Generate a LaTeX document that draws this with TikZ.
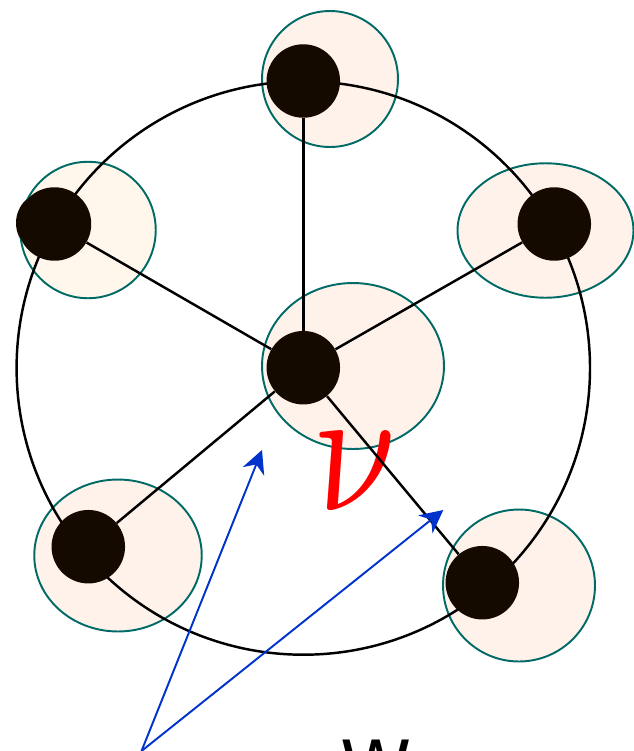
\documentclass[tikz,border=0pt]{standalone}
\usepackage{fontspec}
\usepackage{tikz}
\usetikzlibrary{arrows.meta,shapes.geometric}
\newfontfamily\labfont{DejaVu Sans}
\definecolor{vtxfill}{HTML}{150A00}
\definecolor{halofill}{HTML}{FFF2EA}
\definecolor{halofillb}{HTML}{FFF6EC}
\definecolor{haloline}{HTML}{006B66}
\definecolor{ptrblue}{HTML}{0033CC}

\begin{document}
\begin{tikzpicture}[
  x=0.02cm,y=-0.02cm,
  vtx/.style={circle,fill=vtxfill,draw=none,minimum size=1.47cm,inner sep=0pt},
  halo/.style={ellipse,draw=haloline,line width=1.1pt,fill=halofill,inner sep=0pt},
  edge/.style={line width=1.4pt,draw=black},
  ptr/.style={line width=1.1pt,draw=ptrblue,-{Stealth[length=0.46cm,width=0.46cm]}}]
\useasboundingbox (0,0) rectangle (634,751);
% ---- shadow disc behind the upper-left vertex
\fill[vtxfill] (48,223) circle[radius=32];
% ---- light halos
\node[halo,minimum width=2.72cm,minimum height=2.72cm] (hTop) at (330,79) {};
\node[halo,fill=halofillb,minimum width=2.71cm,minimum height=2.73cm] (hUL) at (88,230) {};
\node[halo,minimum width=3.52cm,minimum height=2.69cm] (hUR) at (545.5,230.5) {};
\node[halo,minimum width=3.64cm,minimum height=3.32cm] (hMid) at (353,366) {};
\node[halo,minimum width=3.35cm,minimum height=3.04cm] (hLL) at (118,555.5) {};
\node[halo,minimum width=3.04cm,minimum height=3.04cm] (hLR) at (519,585.5) {};
% ---- label under the spokes
\node[text=red,inner sep=0pt,xslant=-0.14,xscale=8.9,yscale=10.3] (nu) at (357.5,471.5) {$\nu$};
% ---- rim, vertices and spokes
\coordinate (rimc) at (303.3,368);
\draw[edge] (rimc) circle[radius=286.7];
\node[vtx] (hub) at (303.3,367.7) {};
\node[vtx] (top) at (303.3,81) {};
\node[vtx] (ul) at (54.5,224) {};
\node[vtx] (ur) at (554.3,224) {};
\node[vtx] (ll) at (88.3,546.7) {};
\node[vtx] (lr) at (482.3,582.7) {};
\foreach \n in {top,ul,ur,ll,lr}
  \draw[edge] (hub) -- (\n);
% ---- pointers
\coordinate (foot) at (141.5,751);
\coordinate (tipA) at (262,450);
\coordinate (tipB) at (443.3,510);
\draw[ptr] (foot) -- (tipA);
\draw[ptr] (foot) -- (tipB);
\node[font=\labfont\fontsize{41}{41}\selectfont,anchor=north,inner sep=0pt] (wlab) at (376,740) {W};
\end{tikzpicture}
\end{document}
